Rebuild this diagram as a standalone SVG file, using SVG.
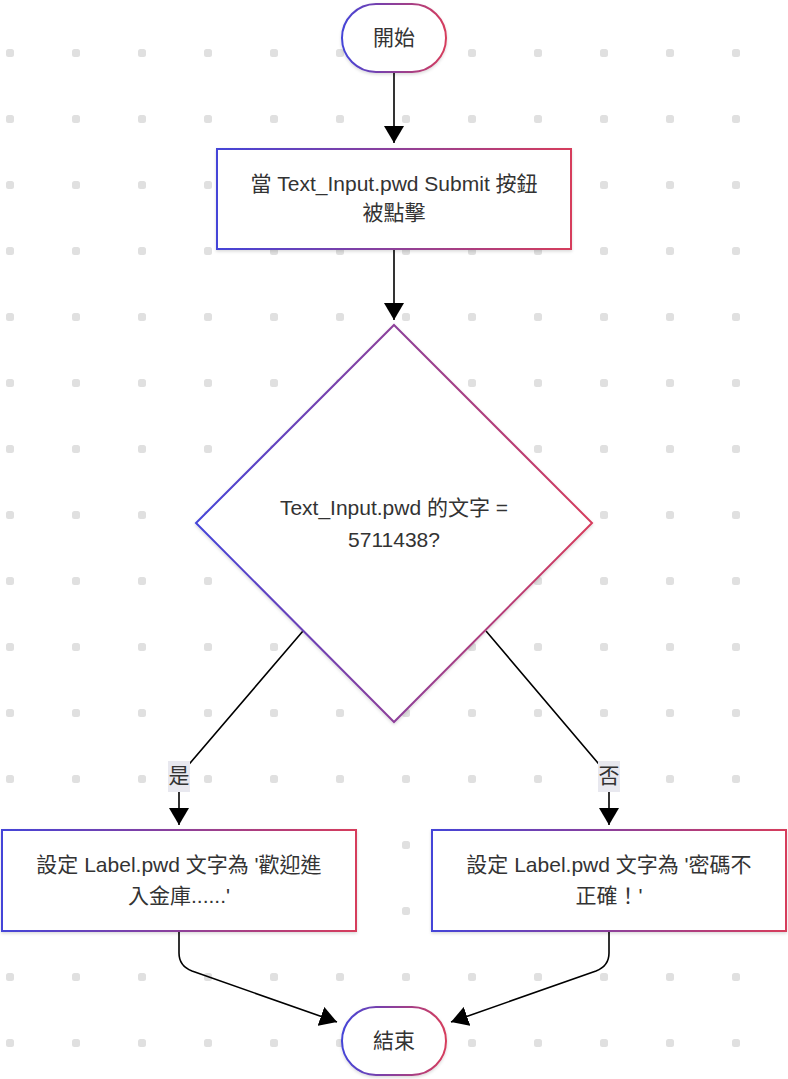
<svg xmlns="http://www.w3.org/2000/svg" width="788" height="1079" viewBox="0 0 788 1079">
<defs>
<linearGradient id="g" x1="0" y1="0" x2="1" y2="0">
<stop offset="0" stop-color="#4444d8"/>
<stop offset="1" stop-color="#d63c5c"/>
</linearGradient>
<pattern id="dots" x="0" y="0" width="66" height="66" patternUnits="userSpaceOnUse">
<rect x="6" y="49" width="8" height="8" rx="2.5" fill="#e0e0e0"/>
</pattern>
<filter id="sh" x="-10%" y="-10%" width="120%" height="130%">
<feDropShadow dx="0" dy="1.5" stdDeviation="1.5" flood-color="#000" flood-opacity="0.15"/>
</filter>
<marker id="arr" markerUnits="userSpaceOnUse" markerWidth="18" markerHeight="20" refX="17" refY="10" orient="auto">
<path d="M0,0 L17,10 L0,20 z" fill="#000"/>
</marker>
</defs>
<style>
.node{fill:#fff;stroke:url(#g);stroke-width:2;filter:url(#sh)}
.t{font-family:"Liberation Sans","Noto Sans CJK TC",sans-serif;font-size:21px;fill:#333;text-anchor:middle}
.e{fill:none;stroke:#000;stroke-width:1.6;marker-end:url(#arr)}
.lbg{fill:#e8e8ef}
</style>
<rect x="0" y="0" width="788" height="1079" fill="#fff"/>
<rect x="0" y="0" width="788" height="1079" fill="url(#dots)"/>
<g id="edges">
<path class="e" d="M394,72 L394,143"/>
<path class="e" d="M394,249 L394,320"/>
<path class="e" d="M303,631 L179,776 L179,825"/>
<path class="e" d="M486,631 L609,776 L609,825"/>
<path class="e" d="M179,931 L179,953 Q179,966 192,971 L337,1022"/>
<path class="e" d="M609,931 L609,953 Q609,966 596,971 L451,1022"/>
</g>
<g id="edge-labels">
<g id="label-yes">
<rect class="lbg" x="168" y="761" width="22" height="31"/>
<text class="t" x="179" y="783">是</text>
</g>
<g id="label-no">
<rect class="lbg" x="598" y="761" width="22" height="31"/>
<text class="t" x="609" y="783">否</text>
</g>
</g>
<g id="start">
<rect class="node" x="342" y="4" width="104" height="68" rx="34"/>
<text class="t" x="394" y="45">開始</text>
</g>
<g id="submit">
<rect class="node" x="217" y="149" width="354" height="100"/>
<text class="t" x="394" y="191">當 Text_Input.pwd Submit 按鈕</text>
<text class="t" x="394" y="220">被點擊</text>
</g>
<g id="check">
<polygon class="node" points="394,325 592,523 394,722 196,523"/>
<text class="t" x="394" y="515">Text_Input.pwd 的文字 =</text>
<text class="t" x="394" y="547">5711438?</text>
</g>
<g id="welcome">
<rect class="node" x="2" y="830" width="354" height="101"/>
<text class="t" x="179" y="872">設定 Label.pwd 文字為 '歡迎進</text>
<text class="t" x="179" y="903">入金庫......'</text>
</g>
<g id="wrong">
<rect class="node" x="432" y="830" width="354" height="101"/>
<text class="t" x="609" y="872">設定 Label.pwd 文字為 '密碼不</text>
<text class="t" x="609" y="903">正確！'</text>
</g>
<g id="end">
<rect class="node" x="342" y="1007" width="104" height="68" rx="34"/>
<text class="t" x="394" y="1048">結束</text>
</g>
</svg>
